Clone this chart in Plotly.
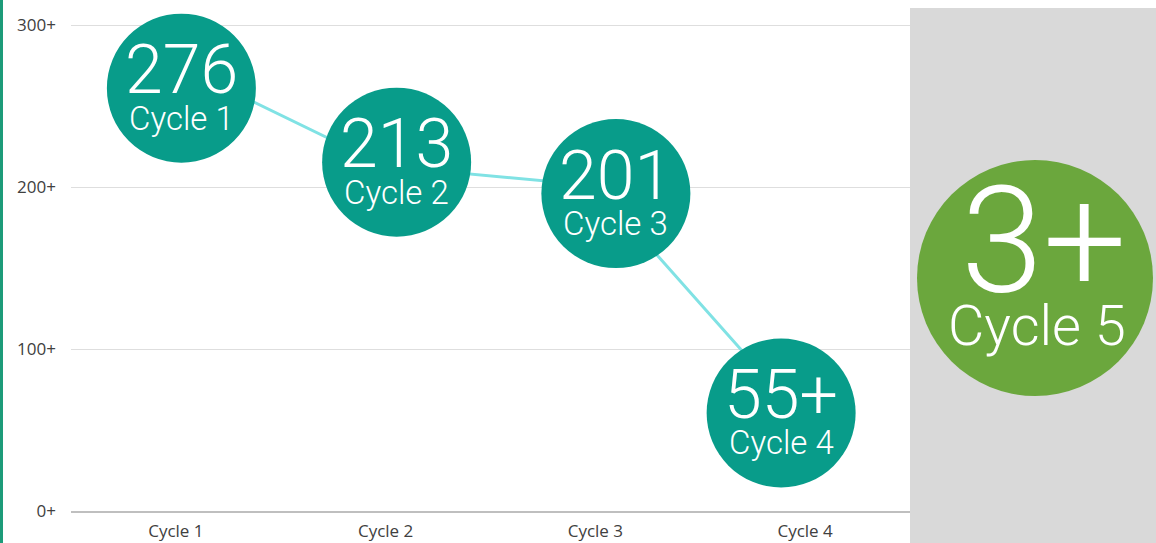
import plotly.graph_objects as go

# ---- data ----
categories = ["Cycle 1", "Cycle 2", "Cycle 3", "Cycle 4"]
values = [276, 213, 201, 55]
value_labels = ["276", "213", "201", "55+"]
extra_label = "Cycle 5"
extra_value_label = "3+"
y_tickvals = [0, 100, 200, 300]
y_ticktext = ["0+", "100+", "200+", "300+"]

# ---- style (pixel offsets of the bubbles relative to their data points) ----
bubble_dx = [5.5, 11, 20.5, -24]
bubble_dy = [-24, 4, -8, 9]   # positive = up
R = 74.5
TEAL = "#089c8a"
GREEN = "#6ba73d"
LINE = "#80e2e4"
BUB_FONT = "Roboto"

x_idx = list(range(len(categories)))

fig = go.Figure()
fig.add_trace(go.Scatter(x=x_idx, y=values, mode="lines",
                         line=dict(color=LINE, width=3), hoverinfo="skip",
                         showlegend=False, cliponaxis=False))

shapes = []
annotations = []
for i, (v, vl, cat) in enumerate(zip(values, value_labels, categories)):
    dx, dy = bubble_dx[i], bubble_dy[i]
    shapes.append(dict(type="circle", xref="x", yref="y",
                       xsizemode="pixel", ysizemode="pixel",
                       xanchor=i, yanchor=v,
                       x0=dx - R, x1=dx + R, y0=dy - R, y1=dy + R,
                       fillcolor=TEAL, line=dict(width=0), layer="above"))
    annotations.append(dict(x=i, y=v, xref="x", yref="y", text=vl, showarrow=False,
                            xshift=dx, yshift=dy + 18, xanchor="center", yanchor="middle",
                            font=dict(family=BUB_FONT, size=68, color="white", weight=300)))
    annotations.append(dict(x=i, y=v, xref="x", yref="y", text=cat, showarrow=False,
                            xshift=dx, yshift=dy - 30, xanchor="center", yanchor="middle",
                            font=dict(family=BUB_FONT, size=33, color="white", weight=300)))

# plot area: x 71..910 px, y 1..511 px
PW = 910 - 71
PH = 510
def px_x(p):
    return (p - 71) / PW
def px_y(p):
    return (511 - p) / PH

# grey side panel
shapes.append(dict(type="rect", xref="paper", yref="paper",
                   x0=px_x(910), x1=px_x(1160), y0=px_y(545), y1=px_y(8),
                   fillcolor="#d9d9d9", line=dict(width=0), layer="below"))
# left accent bar
shapes.append(dict(type="rect", xref="paper", yref="paper",
                   x0=px_x(0), x1=px_x(3), y0=px_y(545), y1=px_y(-2),
                   fillcolor="#1d9b79", line=dict(width=0), layer="above"))
# cycle 5 bubble
shapes.append(dict(type="circle", xref="paper", yref="paper",
                   x0=px_x(917), x1=px_x(1153), y0=px_y(396), y1=px_y(160),
                   fillcolor=GREEN, line=dict(width=0), layer="above"))
annotations.append(dict(x=px_x(1044), y=px_y(241), xref="paper", yref="paper",
                        text=extra_value_label, showarrow=False,
                        xanchor="center", yanchor="middle",
                        font=dict(family=BUB_FONT, size=148, color="white", weight=300)))
annotations.append(dict(x=px_x(1037), y=px_y(326), xref="paper", yref="paper",
                        text=extra_label, showarrow=False,
                        xanchor="center", yanchor="middle",
                        font=dict(family=BUB_FONT, size=56, color="white", weight=300)))

fig.update_layout(
    width=1156, height=543,
    margin=dict(l=71, r=1156 - 910, t=1, b=32, autoexpand=False),
    paper_bgcolor="white", plot_bgcolor="white",
    shapes=shapes, annotations=annotations,
    showlegend=False,
    xaxis=dict(tickvals=x_idx, ticktext=categories, range=[-0.5, len(categories) - 0.5],
               showgrid=False, zeroline=False, showline=True, linecolor="#bfbfbf",
               linewidth=1.5, ticks="", ticklabelstandoff=4, automargin=False,
               tickfont=dict(family="Open Sans", size=17, color="#404040")),
    yaxis=dict(range=[0, 315], tickvals=y_tickvals, ticktext=y_ticktext,
               showgrid=True, gridcolor="#dedede", gridwidth=1, zeroline=False,
               ticks="", ticklabelstandoff=14, automargin=False,
               tickfont=dict(family="Open Sans", size=17, color="#404040")),
)

fig.write_html("out.html", config={"displayModeBar": False},
               post_script="document.body.style.margin='0';document.body.style.overflow='hidden';")
